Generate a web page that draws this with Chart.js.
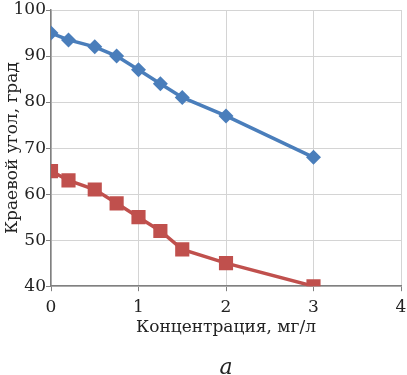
<!DOCTYPE html>
<html>
<head>
<meta charset="utf-8">
<script src="https://cdn.jsdelivr.net/npm/chart.js@4"></script>
<style>
  html, body { margin: 0; padding: 0; background: #fff; overflow: hidden; width: 407px; height: 375px; }
  #wrap { width: 411px; height: 375px; }
</style>
</head>
<body>
<div id="wrap"><canvas id="grafico"></canvas></div>
<script>
const conc = [0, 0.2, 0.5, 0.75, 1, 1.25, 1.5, 2, 3];
const anguloAzul = [95, 93.5, 92, 90, 87, 84, 81, 77, 68];
const anguloRojo = [65, 63, 61, 58, 55, 52, 48, 45, 40];
const xTicks = [0, 1, 2, 3, 4];
const yTicks = [40, 50, 60, 70, 80, 90, 100];

const azul = '#4a7ebb';
const rojo = '#c0504d';
const fuente = 'DejaVu Serif';

function puntos(ys) {
    return conc.map((x, i) => ({ x: x, y: ys[i] }));
}

Chart.defaults.font.family = fuente;
Chart.defaults.color = '#222';

const grafico = new Chart('grafico', {
    type: 'scatter',
    data: {
        datasets: [{
            data: puntos(anguloAzul),
            showLine: true,
            borderColor: azul,
            backgroundColor: azul,
            borderWidth: 3.5,
            pointStyle: 'rectRot',
            pointRadius: 7.5,
            pointBorderWidth: 0
        }, {
            data: puntos(anguloRojo),
            showLine: true,
            borderColor: rojo,
            backgroundColor: rojo,
            borderWidth: 3.5,
            pointStyle: 'rect',
            pointRadius: 10,
            pointBorderWidth: 0
        }]
    },
    options: {
        responsive: true,
        maintainAspectRatio: false,
        animation: false,
        layout: { padding: { top: 7, right: 0, left: 0, bottom: 0 } },
        scales: {
            x: {
                type: 'linear',
                min: 0,
                max: 4,
                afterBuildTicks: (s) => { s.ticks = xTicks.map(v => ({ value: v })); },
                afterFit: (s) => { s.paddingRight = 0; s.paddingLeft = 0; s.height = 57; },
                grid: { color: '#d4d4d4', tickLength: 5, tickColor: '#808080' },
                border: { color: '#808080', width: 1.5 },
                ticks: { font: { size: 17 }, padding: 6, maxRotation: 0 },
                title: { display: true, text: 'Концентрация, мг/л', font: { size: 17 }, padding: { top: 0, bottom: 5 } }
            },
            y: {
                min: 40,
                max: 100,
                afterBuildTicks: (s) => { s.ticks = yTicks.map(v => ({ value: v })); },
                afterFit: (s) => { s.paddingTop = 0; s.paddingBottom = 0; s.width = 51; },
                grid: { color: '#d4d4d4', tickLength: 5, tickColor: '#808080' },
                border: { color: '#808080', width: 1.5 },
                ticks: { font: { size: 17 }, padding: 0 },
                title: { display: true, text: 'Краевой угол, град', font: { size: 17 }, padding: { top: 2, bottom: 0 } }
            }
        },
        plugins: {
            legend: { display: false },
            tooltip: { enabled: false },
            title: {
                display: true,
                position: 'bottom',
                fullSize: false,
                text: 'a',
                font: { size: 22, style: 'italic', weight: 'normal', lineHeight: 0.9 },
                padding: { top: 15, bottom: -3 }
            }
        }
    }
});
</script>
</body>
</html>
